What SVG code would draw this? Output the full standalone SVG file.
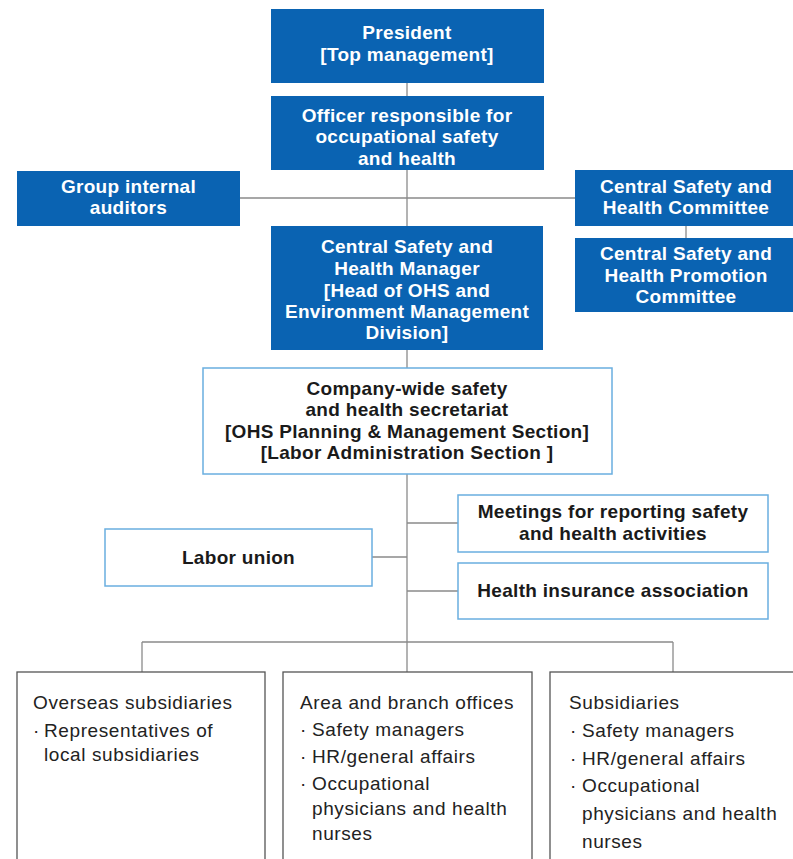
<svg xmlns="http://www.w3.org/2000/svg" width="793" height="859" viewBox="0 0 793 859">
<style>
.blue{fill:#0a63b2}
.wt{fill:#fff;font-family:"Liberation Sans",Arial,sans-serif;font-size:19px;font-weight:bold;letter-spacing:0.3px;text-anchor:middle}
.ob{fill:#fff;stroke:#6aaee0;stroke-width:1.5}
.dt{fill:#1a1a1a;font-family:"Liberation Sans",Arial,sans-serif;font-size:19px;font-weight:bold;letter-spacing:0.3px;text-anchor:middle}
.gb{fill:#fff;stroke:#555;stroke-width:1.3}
.rt{fill:#222;font-family:"Liberation Sans",Arial,sans-serif;font-size:19px;letter-spacing:0.6px}
.ln{stroke:#8a8a8a;stroke-width:1.3;fill:none}
</style>
<rect width="793" height="859" fill="#fff"/>
<g id="connectors">
<line class="ln" x1="407" y1="83" x2="407" y2="672"/>
<line class="ln" x1="240" y1="198" x2="575" y2="198"/>
<line class="ln" x1="686" y1="226" x2="686" y2="238"/>
<line class="ln" x1="407" y1="523" x2="458" y2="523"/>
<line class="ln" x1="407" y1="591" x2="458" y2="591"/>
<line class="ln" x1="372" y1="557" x2="407" y2="557"/>
<line class="ln" x1="142" y1="642" x2="673" y2="642"/>
<line class="ln" x1="142" y1="642" x2="142" y2="672"/>
<line class="ln" x1="673" y1="642" x2="673" y2="672"/>
</g>
<g id="president">
<rect class="blue" x="271" y="9" width="273" height="74"/>
<text class="wt" x="407" y="39">President</text>
<text class="wt" x="407" y="61">[Top management]</text>
</g>
<g id="officer">
<rect class="blue" x="271" y="96" width="273" height="74"/>
<text class="wt" x="407" y="122">Officer responsible for</text>
<text class="wt" x="407" y="143">occupational safety</text>
<text class="wt" x="407" y="165">and health</text>
</g>
<g id="auditors">
<rect class="blue" x="17" y="171" width="223" height="55"/>
<text class="wt" x="128.5" y="193">Group internal</text>
<text class="wt" x="128.5" y="214">auditors</text>
</g>
<g id="cshc">
<rect class="blue" x="575" y="170" width="225" height="56"/>
<text class="wt" x="686" y="193">Central Safety and</text>
<text class="wt" x="686" y="214">Health Committee</text>
</g>
<g id="cshpc">
<rect class="blue" x="575" y="238" width="225" height="74"/>
<text class="wt" x="686" y="260">Central Safety and</text>
<text class="wt" x="686" y="282">Health Promotion</text>
<text class="wt" x="686" y="303">Committee</text>
</g>
<g id="cshm">
<rect class="blue" x="271" y="226" width="272" height="124"/>
<text class="wt" x="407" y="253">Central Safety and</text>
<text class="wt" x="407" y="275">Health Manager</text>
<text class="wt" x="407" y="297">[Head of OHS and</text>
<text class="wt" x="407" y="318">Environment Management</text>
<text class="wt" x="407" y="339">Division]</text>
</g>
<g id="secretariat">
<rect class="ob" x="203" y="368" width="409" height="106"/>
<text class="dt" x="407" y="395">Company-wide safety</text>
<text class="dt" x="407" y="416">and health secretariat</text>
<text class="dt" x="407" y="438">[OHS Planning &amp; Management Section]</text>
<text class="dt" x="407" y="459">[Labor Administration Section ]</text>
</g>
<g id="meetings">
<rect class="ob" x="458" y="495" width="310" height="57"/>
<text class="dt" x="613" y="518">Meetings for reporting safety</text>
<text class="dt" x="613" y="540">and health activities</text>
</g>
<g id="labor-union">
<rect class="ob" x="105" y="529" width="267" height="57"/>
<text class="dt" x="238.5" y="564">Labor union</text>
</g>
<g id="health-insurance">
<rect class="ob" x="458" y="563" width="310" height="56"/>
<text class="dt" x="613" y="597">Health insurance association</text>
</g>
<g id="overseas">
<rect class="gb" x="17" y="672" width="248" height="200"/>
<text class="rt" x="33" y="709">Overseas subsidiaries</text>
<text class="rt" x="33" y="737">·</text>
<text class="rt" x="44" y="737">Representatives of</text>
<text class="rt" x="44" y="761">local subsidiaries</text>
</g>
<g id="area">
<rect class="gb" x="283" y="672" width="249" height="200"/>
<text class="rt" x="300" y="709">Area and branch offices</text>
<text class="rt" x="300" y="736">·</text>
<text class="rt" x="312" y="736">Safety managers</text>
<text class="rt" x="300" y="763">·</text>
<text class="rt" x="312" y="763">HR/general affairs</text>
<text class="rt" x="300" y="790">·</text>
<text class="rt" x="312" y="790">Occupational</text>
<text class="rt" x="312" y="815">physicians and health</text>
<text class="rt" x="312" y="840">nurses</text>
</g>
<g id="subsidiaries">
<rect class="gb" x="550" y="672" width="260" height="200"/>
<text class="rt" x="569" y="709">Subsidiaries</text>
<text class="rt" x="570" y="737">·</text>
<text class="rt" x="582" y="737">Safety managers</text>
<text class="rt" x="570" y="765">·</text>
<text class="rt" x="582" y="765">HR/general affairs</text>
<text class="rt" x="570" y="792">·</text>
<text class="rt" x="582" y="792">Occupational</text>
<text class="rt" x="582" y="820">physicians and health</text>
<text class="rt" x="582" y="848">nurses</text>
</g>
</svg>
